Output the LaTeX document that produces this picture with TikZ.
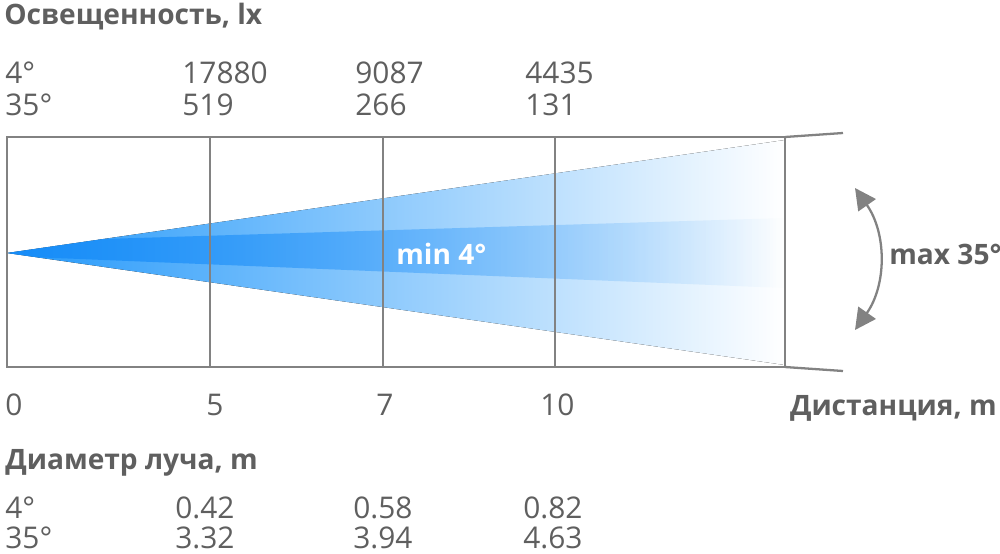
\documentclass[tikz,border=0pt]{standalone}
\usepackage{fontspec}
\setmainfont{Open Sans}
\usetikzlibrary{arrows.meta, fadings}
\definecolor{TxtGray}  {RGB}{95,  95,  95}
\definecolor{LineGray} {RGB}{130, 130, 130}
\definecolor{BeamBlue} {RGB}{35,  152, 250}
\definecolor{BeamMid}  {RGB}{125, 195, 251}
\definecolor{BandBlue} {RGB}{20,  138, 248}

\begin{document}
\begin{tikzpicture}[x=0.02cm, y=0.02cm,
  >={Triangle[length=12pt, width=12pt]},
  grid/.style={draw=LineGray, line width=1.3pt},
  val/.style={anchor=base west, inner sep=0pt, text depth=0pt,
              font=\fontsize{17}{20}\selectfont, text=TxtGray},
  head/.style={anchor=base west, inner sep=0pt,
               font=\fontsize{16}{19}\selectfont\bfseries, text=TxtGray},
  beamlbl/.style={anchor=base west, inner sep=0pt,
                  font=\fontsize{16}{19}\selectfont\bfseries, text=white}
]
  \useasboundingbox (0,0) rectangle (1000,-554);

  %% Beam cone (35 deg) and narrow band (4 deg)
  \coordinate (apex) at (7,-253);
  \fill[left color=BeamBlue, middle color=BeamMid, right color=white]
    (apex) -- (785,-140) -- (785,-365) -- cycle;
  \begin{scope}
    \clip (apex) -- (785,-140) -- (785,-365) -- cycle;
    \fill[BandBlue, fill opacity=0.8, path fading=east]
      (7,-242) -- (785,-218) -- (785,-288) -- (7,-256) -- cycle;
  \end{scope}
  \node[beamlbl] (minlbl) at (396,-264) {min 4°};

  %% Grid
  \draw[grid] (7,-137) rectangle (785,-367);
  \foreach \x in {210,383,555}
    \draw[grid] (\x,-137) -- (\x,-367);
  \draw[grid] (785,-137) -- (843,-133);
  \draw[grid] (785,-367) -- (843,-371);

  %% Beam angle arrow
  \coordinate (arcT) at (855,-188);
  \coordinate (arcB) at (855,-330);
  \draw[<->, LineGray, line width=1.3pt] (arcT) to[bend left=35] (arcB);
  \node[head] (maxlbl) at (889,-264) {max 35°};

  %% Illuminance
  \node[head] (illum) at (4,-25) {Освещенность, lx};
  \node[val] (lxA0) at (5,-84)   {4°};
  \node[val] (lxA1) at (182,-84) {17880};
  \node[val] (lxA2) at (355,-84) {9087};
  \node[val] (lxA3) at (525,-84) {4435};
  \node[val] (lxB0) at (5,-115)   {35°};
  \node[val] (lxB1) at (182,-115) {519};
  \node[val] (lxB2) at (355,-115) {266};
  \node[val] (lxB3) at (525,-115) {131};

  %% Distance
  \node[val] (d0) at (5,-415)   {0};
  \node[val] (d1) at (206,-415) {5};
  \node[val] (d2) at (376,-415) {7};
  \node[val] (d3) at (540,-415) {10};
  \node[head, anchor=base east] (dist) at (997,-415) {Дистанция, m};

  %% Beam diameter
  \node[head] (diam) at (5,-469) {Диаметр луча, m};
  \node[val] (dmA0) at (5,-518)   {4°};
  \node[val] (dmA1) at (175,-518) {0.42};
  \node[val] (dmA2) at (353,-518) {0.58};
  \node[val] (dmA3) at (523,-518) {0.82};
  \node[val] (dmB0) at (5,-548)   {35°};
  \node[val] (dmB1) at (175,-548) {3.32};
  \node[val] (dmB2) at (353,-548) {3.94};
  \node[val] (dmB3) at (523,-548) {4.63};
\end{tikzpicture}
\end{document}
